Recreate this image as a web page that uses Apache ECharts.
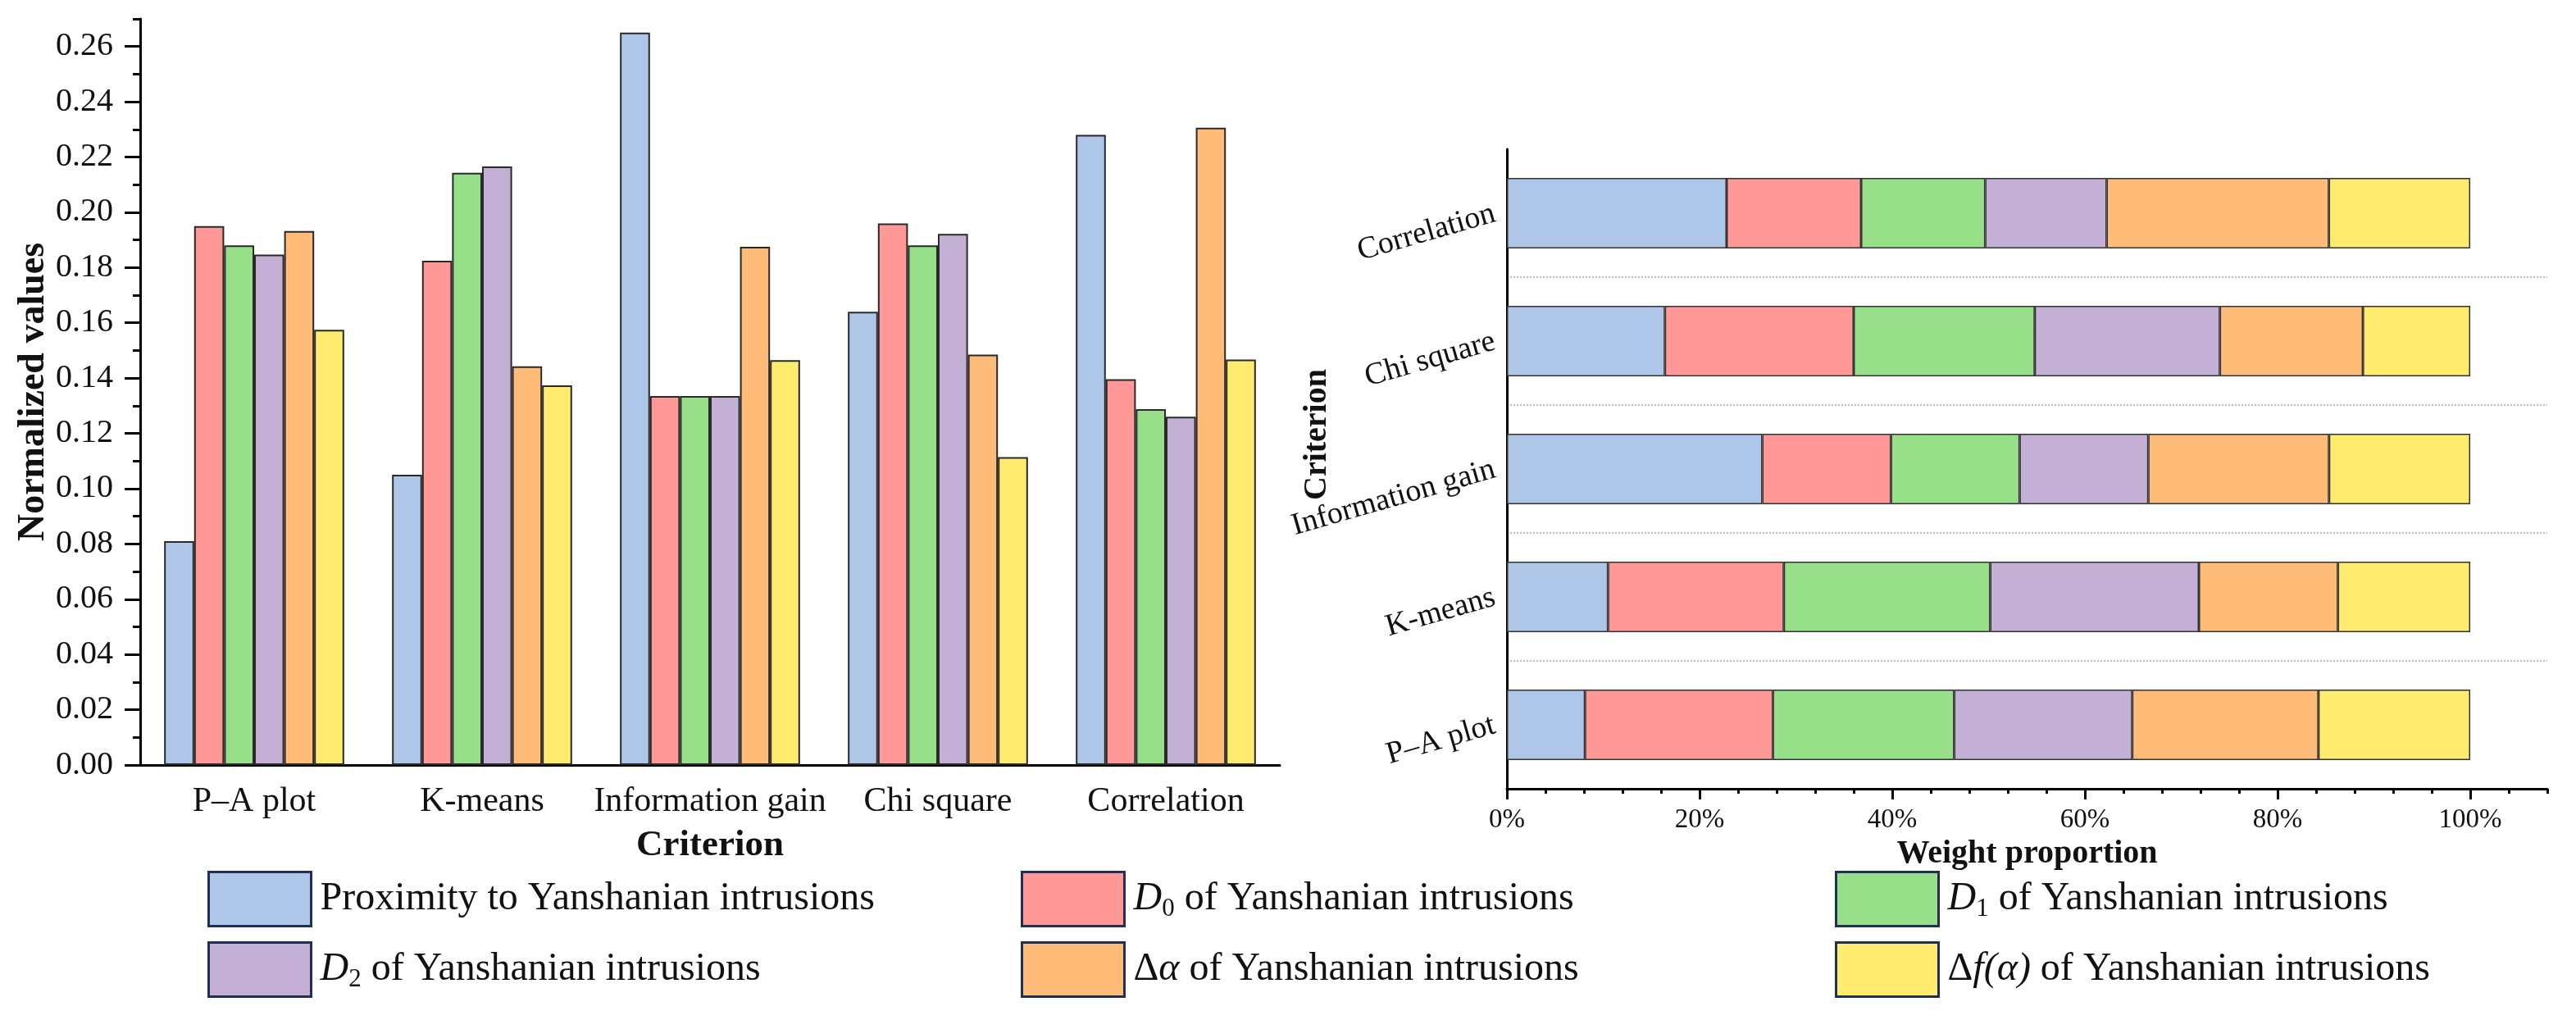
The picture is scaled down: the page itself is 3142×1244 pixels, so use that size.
<!DOCTYPE html>
<html>
<head>
<meta charset="utf-8">
<script src="https://cdn.jsdelivr.net/npm/echarts@6/dist/echarts.min.js"></script>
<style>
html,body{margin:0;padding:0;background:#fff;}
#chart{width:3142px;height:1244px;}
</style>
</head>
<body>
<div id="chart"></div>
<script>
// ---------------- DATA ----------------
const categories = ['P\u2013A plot', 'K-means', 'Information gain', 'Chi square', 'Correlation'];
const seriesNames = [
  'Proximity to Yanshanian intrusions',
  'D0 of Yanshanian intrusions',
  'D1 of Yanshanian intrusions',
  'D2 of Yanshanian intrusions',
  '\u0394\u03b1 of Yanshanian intrusions',
  '\u0394f(\u03b1) of Yanshanian intrusions'
];
const proximity = [0.081, 0.105, 0.265, 0.164, 0.228];
const d0 = [0.195, 0.1825, 0.1335, 0.196, 0.1396];
const d1 = [0.188, 0.2143, 0.1335, 0.188, 0.1288];
const d2 = [0.1847, 0.2166, 0.1335, 0.1922, 0.126];
const deltaAlpha = [0.1932, 0.1443, 0.1875, 0.1485, 0.2306];
const deltaFAlpha = [0.1575, 0.1374, 0.1465, 0.1114, 0.1467];
const yTickValues = [0, 0.02, 0.04, 0.06, 0.08, 0.10, 0.12, 0.14, 0.16, 0.18, 0.20, 0.22, 0.24, 0.26];
const pctTickValues = [0, 0.2, 0.4, 0.6, 0.8, 1.0];

// ---------------- STYLE ----------------
const colors = ['#aec7e8', '#ff9896', '#98df8a', '#c5b0d5', '#ffbb78', '#ffec6e'];
const F = 'Liberation Serif';
const ink = '#111';
const allValues = [proximity, d0, d1, d2, deltaAlpha, deltaFAlpha];
const rowTotals = categories.map((c, i) => allValues.reduce((s, arr) => s + arr[i], 0));

const legendRich = {
  n: {fontFamily: F, fontSize: 48, lineHeight: 56, color: ink},
  it: {fontFamily: F, fontSize: 48, lineHeight: 56, fontStyle: 'italic', color: ink},
  sub: {fontFamily: F, fontSize: 31, lineHeight: 30, verticalAlign: 'bottom', color: ink}
};
const legendLabels = [
  '{n|Proximity to Yanshanian intrusions}',
  '{it|D}{sub|0}{n| of Yanshanian intrusions}',
  '{it|D}{sub|1}{n| of Yanshanian intrusions}',
  '{it|D}{sub|2}{n| of Yanshanian intrusions}',
  '{n|\u0394}{it|\u03b1}{n| of Yanshanian intrusions}',
  '{n|\u0394}{it|f(\u03b1)}{n| of Yanshanian intrusions}'
];
const legendPos = [[253, 1062], [1245, 1062], [2238, 1062], [253, 1148], [1245, 1148], [2238, 1148]];

const legends = seriesNames.map((name, i) => ({
  data: [name],
  left: legendPos[i][0],
  top: legendPos[i][1],
  padding: 0,
  icon: 'rect',
  itemWidth: 125,
  itemHeight: 66,
  selectedMode: false,
  itemStyle: {borderColor: '#1f2f55', borderWidth: 3},
  formatter: () => legendLabels[i],
  textStyle: {rich: legendRich, padding: [0, 0, 0, 6]}
}));

const barSeries = seriesNames.map((name, i) => ({
  name: name,
  type: 'bar',
  xAxisIndex: 0,
  yAxisIndex: 0,
  barGap: '0%',
  barCategoryGap: '21%',
  itemStyle: {color: colors[i], borderColor: '#2a2a2a', borderWidth: 2},
  emphasis: {disabled: true},
  data: allValues[i]
}));

const stackSeries = seriesNames.map((name, i) => ({
  name: name,
  type: 'bar',
  stack: 'share',
  xAxisIndex: 2,
  yAxisIndex: 2,
  barCategoryGap: '45%',
  itemStyle: {color: colors[i], borderColor: '#333', borderWidth: 1.5},
  emphasis: {disabled: true},
  data: allValues[i].map((v, k) => v / rowTotals[k])
}));

const axisLineStyle = {color: '#000', width: 3};

const option = {
  animation: false,
  backgroundColor: '#fff',
  textStyle: {fontFamily: F, color: ink},
  legend: legends,
  grid: [
    {left: 171, top: 23, right: 1581, bottom: 311},
    {left: 1838, top: 182, right: 35, bottom: 282}
  ],
  xAxis: [
    { // left main category axis
      type: 'category', gridIndex: 0, position: 'bottom', data: categories,
      axisLine: {lineStyle: axisLineStyle},
      axisTick: {alignWithLabel: true, length: 18, lineStyle: {color: '#000', width: 3}},
      axisLabel: {fontFamily: F, fontSize: 42, color: ink, margin: 24, interval: 0},
      name: 'Criterion', nameLocation: 'middle', nameGap: 76,
      nameTextStyle: {fontFamily: F, fontSize: 45, fontWeight: 'bold', color: ink}
    },
    { // left boundary ticks
      type: 'category', gridIndex: 0, position: 'bottom', data: categories,
      axisLine: {show: false},
      axisTick: {length: 10, lineStyle: {color: '#000', width: 3}},
      axisLabel: {show: false}
    },
    { // right main value axis
      type: 'value', gridIndex: 1, position: 'bottom', min: 0, max: 1.08, interval: 0.2,
      axisLine: {show: true, lineStyle: axisLineStyle},
      axisTick: {show: true, length: 13, customValues: pctTickValues, lineStyle: {color: '#000', width: 3}},
      axisLabel: {fontFamily: F, fontSize: 33, color: ink, margin: 22, customValues: pctTickValues,
        formatter: v => (v > 1.001 ? '' : Math.round(v * 100) + '%')},
      splitLine: {show: false},
      name: 'Weight proportion', nameLocation: 'middle', nameGap: 58,
      nameTextStyle: {fontFamily: F, fontSize: 40, fontWeight: 'bold', color: ink}
    },
    { // right minor ticks
      type: 'value', gridIndex: 1, position: 'bottom', min: 0, max: 1.08, interval: 0.04,
      axisLine: {show: false},
      axisTick: {show: true, length: 6, lineStyle: {color: '#000', width: 3}},
      axisLabel: {show: false},
      splitLine: {show: false}
    }
  ],
  yAxis: [
    { // left main value axis
      type: 'value', gridIndex: 0, position: 'left', min: 0, max: 0.27, interval: 0.02,
      axisLine: {show: true, lineStyle: axisLineStyle},
      axisTick: {show: true, length: 19, customValues: yTickValues, lineStyle: {color: '#000', width: 3}},
      axisLabel: {fontFamily: F, fontSize: 40, color: ink, margin: 33, customValues: yTickValues,
        formatter: v => (v > 0.265 ? '' : v.toFixed(2))},
      splitLine: {show: false},
      name: 'Normalized values', nameLocation: 'middle', nameGap: 104,
      nameTextStyle: {fontFamily: F, fontSize: 46, fontWeight: 'bold', color: ink}
    },
    { // left minor ticks
      type: 'value', gridIndex: 0, position: 'left', min: 0, max: 0.27, interval: 0.01,
      axisLine: {show: false},
      axisTick: {show: true, length: 9, lineStyle: {color: '#000', width: 3}},
      axisLabel: {show: false},
      splitLine: {show: false}
    },
    { // right category axis
      type: 'category', gridIndex: 1, position: 'left', data: categories,
      axisLine: {lineStyle: axisLineStyle},
      axisTick: {length: 8, lineStyle: {color: '#000', width: 3}},
      axisLabel: {fontFamily: F, fontSize: 38, color: ink, rotate: 16, margin: 15, interval: 0},
      splitLine: {show: true, showMinLine: false, showMaxLine: false,
        lineStyle: {type: 'dotted', color: '#bbb', width: 2}}
    }
  ],
  graphic: [
    {
      type: 'text', x: 1607, y: 530, rotation: Math.PI / 2,
      style: {text: 'Criterion', fontFamily: F, fontSize: 40, fontWeight: 'bold', fill: ink,
        textAlign: 'center', textVerticalAlign: 'middle'}
    }
  ],
  series: barSeries.concat(stackSeries)
};

const chart = echarts.init(document.getElementById('chart'), null, {renderer: 'canvas'});
chart.setOption(option);
</script>
</body>
</html>
